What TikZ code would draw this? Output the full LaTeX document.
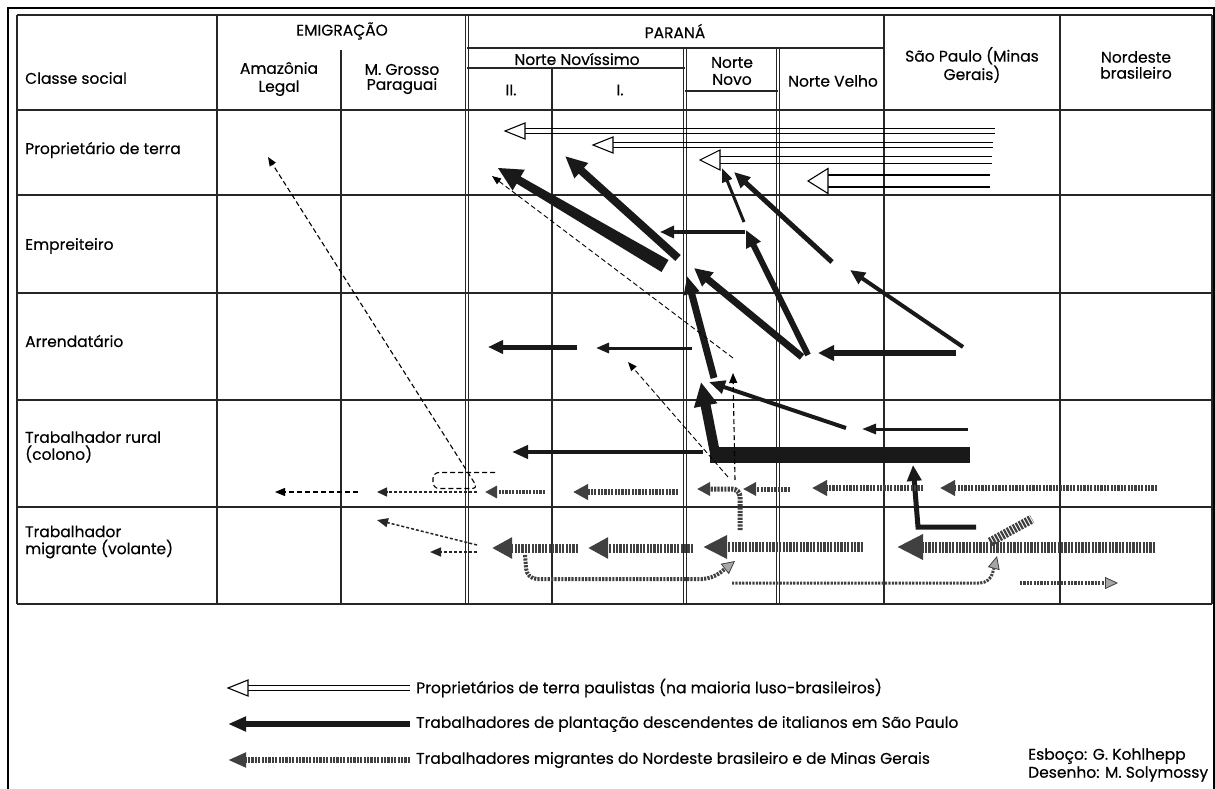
\documentclass[tikz,border=0pt]{standalone}
\usepackage{fontspec}
\setmainfont{Poppins}[FakeBold=0.35]
\usetikzlibrary{arrows.meta}
\begin{document}
\begin{tikzpicture}[x=1pt,y=-1pt,
 tline/.style={line width=1.1pt, draw=black!85},
 lbl/.style={inner sep=0pt, anchor=west, align=left, font=\fontsize{15.5}{17}\selectfont},
 hdr/.style={inner sep=0pt, align=center, font=\fontsize{15.5}{16}\selectfont},
 sol/.style={draw=black!90, line width=#1},
 hat/.style={draw=black!75, line width=#1, dash pattern=on 2.2pt off 1.2pt},
 dsh/.style={draw=black, line width=1.1pt, dash pattern=on 5pt off 3pt},
 ah/.style 2 args={-{Triangle[length=#1pt,width=#2pt]}},
 gh/.style 2 args={-{Triangle[length=#1pt,width=#2pt,fill=black!35,line width=0.8pt]}},
 openhead/.style={draw=black, line width=1.1pt, fill=white, line join=miter}
]
\useasboundingbox (0,0) rectangle (1215,789);
% outer frame
\draw[line width=2.4pt] (8,800) -- (8,8) -- (1214.5,8) -- (1214.5,800);
% table horizontal lines
\foreach \y in {15,110,195,293,400,507,604} \draw[tline] (17,\y) -- (1212,\y);
\draw[tline] (467,48) -- (884,48);
\draw[tline] (467,68) -- (685,68);
\draw[tline] (685,91) -- (778,91);
% vertical lines
\foreach \x in {17,217,884,1060,1212} \draw[tline] (\x,15) -- (\x,604);
\draw[tline] (341,50) -- (341,604);
\draw[tline] (465.5,15) -- (465.5,604);
\draw[tline] (468.5,15) -- (468.5,604);
\draw[tline] (552,68) -- (552,604);
\foreach \x in {683.5,686.5,776.5,779.5} \draw[tline] (\x,48) -- (\x,604);
% header texts
\node[hdr] (hEmig) at (342,31) {EMIGRAÇÃO};
\node[hdr, font=\fontsize{15.5}{18}\selectfont] (hAmaz) at (279,79) {Amazônia\\Legal};
\node[hdr, font=\fontsize{15.5}{15}\selectfont] (hMG) at (402,79) {M. Grosso\\Paraguai};
\node[hdr] (hPR) at (675,31) {PARANÁ};
\node[hdr] (hNN) at (577,59) {Norte Novíssimo};
\node[hdr] (hII) at (511,90) {II.};
\node[hdr] (hI) at (620,90) {I.};
\node[hdr, font=\fontsize{15.5}{17}\selectfont] (hNNo) at (732,71) {Norte\\Novo};
\node[hdr] (hNV) at (833,81) {Norte Velho};
\node[hdr] (hSP) at (972,65) {São Paulo (Minas\\Gerais)};
\node[hdr] (hNE) at (1136,65) {Nordeste\\brasileiro};
% row labels
\node[lbl] (rCS) at (25,78) {Classe social};
\node[lbl] (rPT) at (25,150) {Proprietário de terra};
\node[lbl] (rEm) at (25,246) {Empreiteiro};
\node[lbl] (rAr) at (25,341) {Arrendatário};
\node[lbl] (rTR) at (25,447) {Trabalhador rural\\(colono)};
\node[lbl] (rTM) at (25,542) {Trabalhador\\migrante (volante)};
% open double arrows (landowners)
\foreach \ty/\tx/\rx/\g/\h in {131/505/995/5/8, 145/593/993/5/8, 160/700/992/7/10, 181/808/990/12/12.5}{
  \draw[line width=1.1pt] (\tx+18,\ty-\g/2) -- (\rx,\ty-\g/2);
  \draw[line width=1.1pt] (\tx+18,\ty+\g/2) -- (\rx,\ty+\g/2);
  \draw[openhead] (\tx,\ty) -- (\tx+20,\ty-\h) -- (\tx+20,\ty+\h) -- cycle;
}
% solid arrows (Italian descendants)
\fill[black!90] (661.5,272.0) -- (668.5,260.0) -- (520.7,176.6) -- (524.8,169.7) -- (498,168) -- (512.6,190.5) -- (516.7,183.6) -- cycle;
\draw[sol=8, ah={22}{19}] (678,258) -- (565,156);
\draw[sol=4, ah={14}{12}] (745,232) -- (660,232);
\draw[sol=3, ah={14}{10}] (744,222) -- (722,168);
\draw[sol=5, ah={16}{14}] (832,262) -- (734,172);
\draw[sol=6, ah={17}{15}] (808,355) -- (746,230);
\draw[sol=7, ah={18}{17}] (802,357) -- (694,268);
\draw[sol=7, ah={18}{15}] (714,378) -- (687,276);
\draw[sol=4, ah={15}{13}] (963,347) -- (850,270);
\draw[sol=6, ah={16}{15}] (956,353) -- (818,353);
\draw[sol=5, ah={15}{13}] (577,347) -- (488,347);
\draw[sol=3, ah={13}{10}] (692,348) -- (596,348);
\draw[sol=4, ah={16}{13}] (846,428) -- (709,382);
\draw[sol=3, ah={14}{10}] (968,429) -- (862,429);
\fill[black!90] (710,447) rectangle (970,463);
\draw[sol=10, ah={24}{22}] (716,458) -- (701,382);
\draw[sol=4, ah={16}{13}] (703,452) -- (512,452);
\draw[sol=5, ah={16}{14}, line join=miter] (976,527) -- (918,527) -- (913,465);
% hatched arrows (migrants) - rural row
\draw[hat=6, ah={15}{15}] (1157,488) -- (940,488);
\draw[hat=6, ah={15}{15}] (923,488) -- (812,488);
\draw[hat=5, ah={13}{13}] (790,489) -- (743,489);
\draw[hat=5, ah={13}{13}, rounded corners=8pt] (740,530) -- (740,489) -- (697,489);
\draw[hat=6, ah={15}{15}] (678,492) -- (573,492);
\draw[hat=4, ah={12}{12}] (545,492) -- (485,492);
\draw[draw=black!85, line width=1.4pt, dash pattern=on 3pt off 2pt, ah={10}{9}] (477,492) -- (377,492);
\draw[dsh, ah={10}{8}] (358,492) -- (275,492);
% hatched arrows - migrant row
\draw[hat=11, ah={26}{24}] (1155,547) -- (897,547);
\draw[hat=9, line cap=butt] (990,542) -- (1032,519);
\draw[hat=10, ah={24}{22}] (863,547) -- (703,547);
\draw[hat=9, ah={20}{20}] (693,548) -- (588,548);
\draw[hat=9, ah={20}{20}] (578,548) -- (492,548);
\draw[draw=black!85, line width=1.5pt, dash pattern=on 3pt off 2pt, ah={11}{9}] (477,545) -- (377,520);
\draw[draw=black!85, line width=1.5pt, dash pattern=on 3pt off 2pt, ah={11}{9}] (477,552) -- (430,552);
\draw[hat=4, gh={13}{13}, rounded corners=10pt] (525,555) -- (527,579) -- (712,579) -- (735,561);
\draw[hat=3, gh={13}{12}, rounded corners=10pt] (732,583) -- (990,583) -- (997,556);
\draw[hat=4, gh={13}{12}] (1020,583) -- (1118,583);
% thin dashed lines
\draw[dsh, ah={9}{7}, rounded corners=6pt] (495,472.5) -- (433,472.5) -- (433,488.5) -- (478,488.5) -- (268,157);
\draw[dsh, line width=0.9pt, ah={9}{7}] (733,358) -- (492,176);
\draw[dsh, line width=0.9pt, ah={9}{7}] (728,477) -- (628,362);
\draw[dsh, ah={10}{8}] (735,480) -- (733,373);
% legend
\draw[line width=1.1pt] (246,685.5) -- (410,685.5);
\draw[line width=1.1pt] (246,690.5) -- (410,690.5);
\draw[openhead] (228,688) -- (248,680) -- (248,696) -- cycle;
\draw[sol=6, ah={18}{14}] (410,724) -- (228,724);
\draw[hat=6, ah={18}{14}] (410,760) -- (228,760);
\node[lbl] (lg1) at (416,688) {Proprietários de terra paulistas (na maioria luso-brasileiros)};
\node[lbl] (lg2) at (416,724) {Trabalhadores de plantação descendentes de italianos em São Paulo};
\node[lbl] (lg3) at (416,760) {Trabalhadores migrantes do Nordeste brasileiro e de Minas Gerais};
% credits
\node[lbl] (cr1) at (1028,756) {Esboço: G. Kohlhepp};
\node[lbl] (cr2) at (1028,774) {Desenho: M. Solymossy};
\end{tikzpicture}
\end{document}
